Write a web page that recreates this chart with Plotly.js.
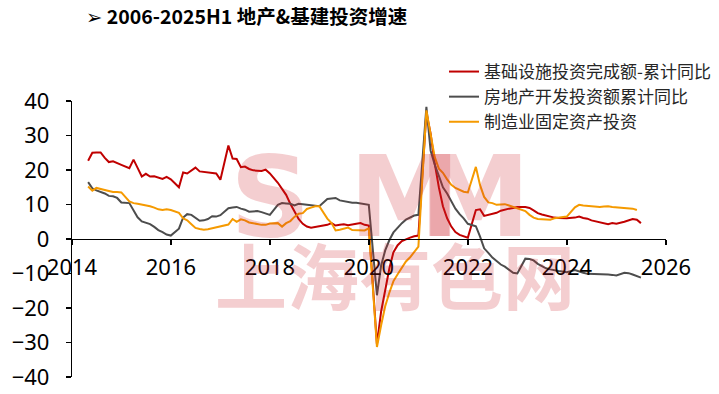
<!DOCTYPE html>
<html>
<head>
<meta charset="utf-8">
<script src="https://cdn.plot.ly/plotly-3.0.1.min.js"></script>
<style>html,body{margin:0;padding:0;background:#fff;}#chart{width:719px;height:394px;}</style>
</head>
<body>
<div id="chart"></div>
<script>
// ---- Data (cumulative YoY %, monthly, January merged into Feb) ----
const startMonth = "2014-04";
const endMonth = "2025-06";

const seriesNames = ["基础设施投资完成额-累计同比", "房地产开发投资额累计同比", "制造业固定资产投资"];

// Infrastructure
const infra = [
  22.7, 25.0, 25.1, 25.1, 23.5, 22.3, 22.5, 21.9, 21.5,            // 2014 Apr-Dec
  20.5, 23.0, 20.6, 18.1, 18.9, 18.1, 18.2, 17.8, 17.4, 18.0, 17.3, // 2015
  15.0, 19.3, 19.0, 19.9, 20.7, 19.6, 19.5, 19.4, 19.3, 19.0, 17.2, // 2016
  27.1, 23.3, 23.2, 20.8, 21.0, 20.3, 19.9, 19.8, 19.7, 20.1, 19.0, // 2017
  16.3, 14.5, 12.8, 10.2, 7.9, 5.8, 4.4, 3.6, 3.3, 3.5, 3.6,        // 2018
  4.1, 4.6, 3.9, 4.1, 4.3, 4.0, 4.1, 4.4, 4.6, 4.1, 3.9,            // 2019
  -30.5, -21.0, -14.5, -8.5, -3.8, -1.8, -0.6, 0.0, 0.4, 0.8, 1.0,  // 2020
  36.6, 30.5, 22.0, 15.0, 9.5, 6.0, 3.6, 2.0, 1.2, 0.7, 0.4,        // 2021
  8.4, 8.6, 6.7, 7.0, 7.3, 7.6, 8.2, 8.6, 8.8, 9.0, 9.3,            // 2022
  9.3, 9.0, 8.3, 7.5, 7.1, 6.8, 6.4, 6.2, 6.1, 6.0, 6.0,            // 2023
  6.2, 6.5, 6.1, 5.9, 5.4, 5.1, 4.8, 4.5, 4.3, 4.6, 4.4,            // 2024
  5.0, 5.5, 5.8, 5.6, 4.6                                           // 2025 Feb-Jun
];

// Real estate development
const realEstate = [
  16.5, 14.7, 14.1, 13.7, 13.2, 12.5, 12.4, 11.9, 10.6,                 // 2014
  10.4, 8.5, 6.3, 5.1, 4.6, 4.3, 3.5, 2.6, 2.0, 1.3, 1.0,               // 2015
  3.0, 6.2, 7.2, 7.0, 6.1, 5.3, 5.4, 5.8, 6.6, 6.5, 6.9,                // 2016
  8.9, 9.1, 9.3, 8.8, 8.5, 7.9, 7.9, 8.1, 7.8, 7.5, 7.0,                // 2017
  9.9, 10.4, 10.3, 10.2, 9.7, 10.2, 10.1, 9.9, 9.7, 9.7, 9.5,           // 2018
  11.6, 11.8, 11.9, 11.2, 10.9, 10.6, 10.5, 10.5, 10.3, 10.2, 9.9,      // 2019
  -16.3, -7.7, -3.3, -0.3, 1.9, 3.4, 4.6, 5.6, 6.3, 6.8, 7.0,           // 2020
  38.3, 25.6, 21.6, 18.3, 15.0, 13.2, 11.0, 8.8, 7.2, 6.0, 4.4,         // 2021
  3.7, 0.7, -2.7, -4.0, -5.4, -6.4, -7.4, -8.0, -8.8, -9.8, -10.0,      // 2022
  -5.7, -5.8, -6.2, -7.2, -7.9, -8.5, -8.8, -9.1, -9.3, -9.4, -9.6,     // 2023
  -9.0, -9.5, -9.8, -10.1, -10.1, -10.2, -10.2, -10.1, -10.3, -10.4, -10.6, // 2024
  -9.8, -9.9, -10.3, -10.7, -11.2                                       // 2025
];

// Manufacturing fixed-asset investment (ends May 2025)
const manufacturing = [
  15.2, 14.0, 14.8, 14.6, 14.2, 13.9, 13.6, 13.6, 13.5,             // 2014
  10.9, 10.4, 10.2, 10.0, 9.8, 9.5, 9.1, 8.6, 8.4, 8.6, 8.4,        // 2015
  7.6, 6.0, 5.4, 4.3, 3.2, 2.9, 2.7, 2.8, 3.1, 3.4, 3.8,            // 2016
  4.2, 5.8, 5.0, 5.7, 5.4, 4.8, 4.5, 4.2, 4.1, 4.1, 4.5,            // 2017
  4.6, 3.6, 4.6, 5.2, 6.4, 7.3, 7.5, 8.7, 9.1, 9.5, 9.5,            // 2018
  5.9, 4.6, 2.5, 2.7, 3.0, 3.3, 2.6, 2.5, 2.6, 2.5, 3.1,            // 2019
  -31.3, -25.0, -19.5, -15.5, -12.2, -10.2, -8.3, -6.5, -5.3, -3.7, -2.2, // 2020
  37.3, 29.8, 23.8, 20.4, 19.2, 17.3, 15.7, 14.8, 14.2, 13.7, 13.5, // 2021
  20.9, 15.6, 12.2, 10.6, 10.4, 9.9, 10.0, 10.1, 9.7, 9.3, 9.0,     // 2022
  8.1, 7.0, 6.2, 5.8, 5.7, 5.5, 5.6, 6.0, 6.2, 6.3, 6.5,            // 2023
  9.2, 9.9, 9.7, 9.6, 9.4, 9.3, 9.3, 9.4, 9.5, 9.3, 9.2,            // 2024
  9.1, 9.1, 8.8, 8.4                                                // 2025 Feb-May
];

const colors = ["#C00000", "#4D4D4D", "#F59A00"];

// ---- build month-end dates (Jan merged into Feb) ----
function monthEnds(start, end) {
  const out = [];
  let [y, m] = start.split("-").map(Number);
  const [ey, em] = end.split("-").map(Number);
  while (y < ey || (y === ey && m <= em)) {
    if (m !== 1) {
      const d = new Date(Date.UTC(y, m, 0)).getUTCDate();
      out.push(y + "-" + String(m).padStart(2, "0") + "-" + String(d).padStart(2, "0"));
    }
    m++; if (m > 12) { m = 1; y++; }
  }
  return out;
}
const dates = monthEnds(startMonth, endMonth);

const seriesValues = [infra, realEstate, manufacturing];
const traces = seriesValues.map((vals, i) => ({
  type: "scatter", mode: "lines",
  x: dates.slice(0, vals.length), y: vals,
  name: seriesNames[i],
  line: { color: colors[i], width: 2 },
  hoverinfo: "skip"
}));

const wm = "rgba(205,30,40,0.22)";
const px = v => (v - 72) / 594;   // helper: pixel -> paper x (layout only)
const py = v => (377 - v) / 276;  // helper: pixel -> paper y (layout only)
const layout = {
  width: 719, height: 394,
  margin: { l: 72, r: 53, t: 101, b: 17, autoexpand: false },
  paper_bgcolor: "#fff", plot_bgcolor: "#fff",
  font: { family: "Noto Sans, Noto Sans CJK SC, sans-serif", color: "#000" },
  title: {
    text: "<b>➢ 2006-2025H1 地产&基建投资增速</b>",
    xref: "container", yref: "container",
    x: 86 / 719, xanchor: "left", y: 1 - 17 / 394, yanchor: "middle",
    font: { family: "Noto Sans CJK SC, DejaVu Sans", size: 19.5, color: "#000" }
  },
  xaxis: {
    type: "date", range: ["2014-01-01", "2026-01-01"],
    tick0: "2014-01-01", dtick: "M24", tickformat: "%Y",
    showgrid: false, zeroline: false,
    showline: true, linecolor: "#000", linewidth: 1.2,
    ticks: "outside", ticklen: 5, tickcolor: "#000", tickwidth: 1.2,
    anchor: "free", position: 0.5,
    tickfont: { size: 22, color: "#000", family: "Noto Sans" },
    ticklabelstandoff: 3
  },
  yaxis: {
    range: [-40, 40], dtick: 10, tick0: 0,
    showgrid: false, zeroline: false,
    showline: true, linecolor: "#000", linewidth: 1.2,
    ticks: "outside", ticklen: 5, tickcolor: "#000", tickwidth: 1.2,
    tickfont: { size: 22, color: "#000", family: "Noto Sans" },
    ticklabelstandoff: 12
  },
  showlegend: true,
  legend: {
    x: px(444), xanchor: "left",
    y: py(54), yanchor: "top",
    bgcolor: "rgba(0,0,0,0)",
    font: { family: "Noto Sans CJK SC", size: 17, color: "#262626" },
    tracegroupgap: 0
  },
  annotations: [
    { text: "<b>S</b>", xref: "paper", yref: "paper", x: px(270), y: py(197), showarrow: false, font: { family: "DejaVu Sans", size: 112, color: wm } },
    { text: "<b>M</b>", xref: "paper", yref: "paper", x: px(405), y: py(197), showarrow: false, font: { family: "DejaVu Sans", size: 112, color: wm } },
    { text: "<b>M</b>", xref: "paper", yref: "paper", x: px(532), y: py(197), showarrow: false, font: { family: "DejaVu Sans", size: 112, color: wm } },
    { text: "<b>上海有色网</b>", xref: "paper", yref: "paper", x: px(395), y: py(272), showarrow: false, font: { family: "Noto Sans CJK SC", size: 72, color: wm } }
  ]
};

Plotly.newPlot("chart", traces, layout, { staticPlot: true, displayModeBar: false });
</script>
</body>
</html>
